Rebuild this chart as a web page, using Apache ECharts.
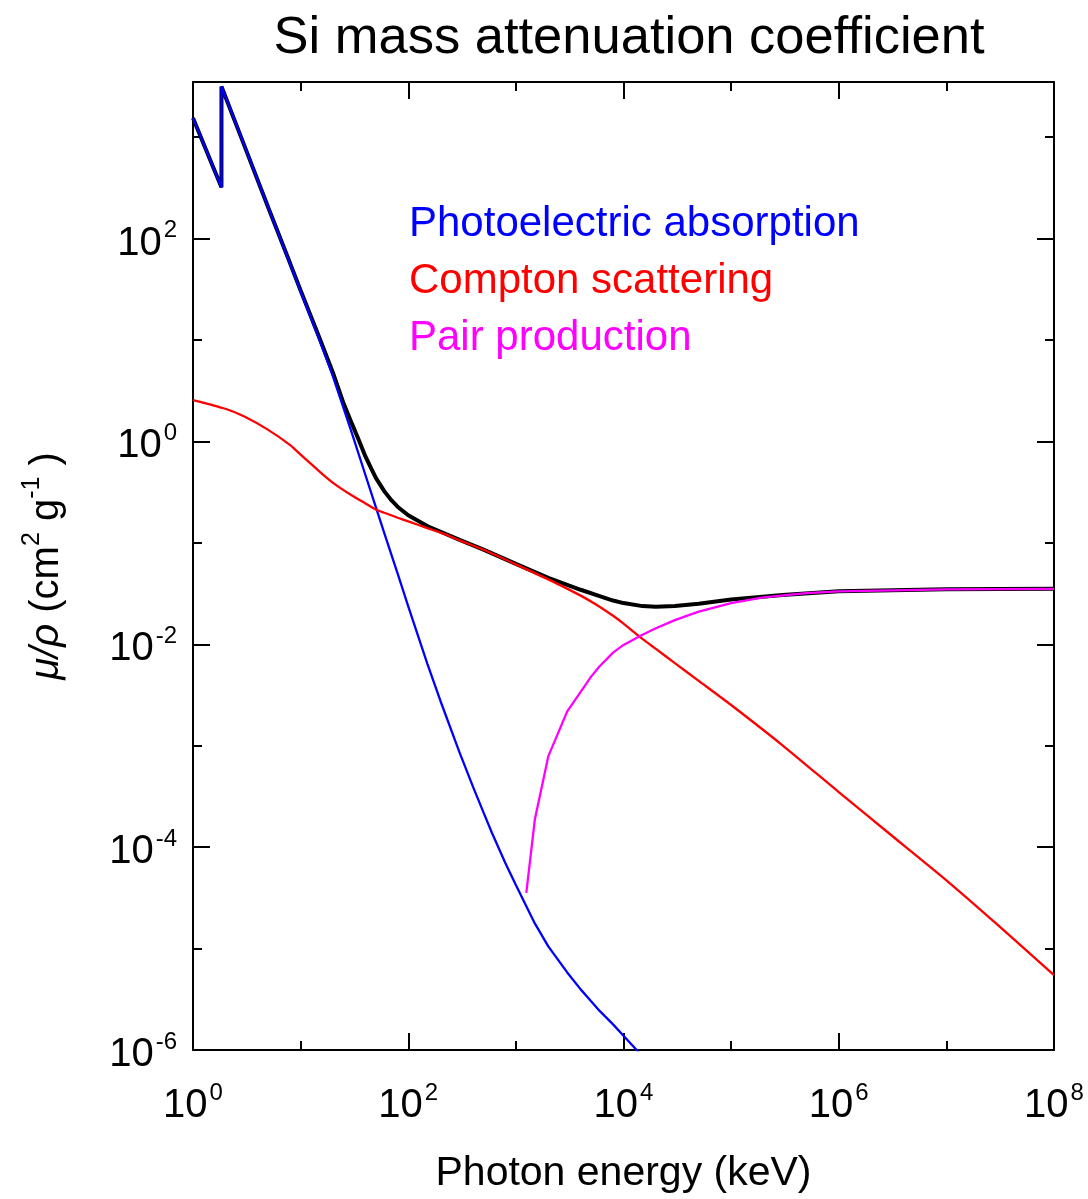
<!DOCTYPE html>
<html>
<head>
<meta charset="utf-8">
<title>Si mass attenuation coefficient</title>
<script src="https://cdn.jsdelivr.net/npm/echarts@6/dist/echarts.min.js"></script>
<style>
  html, body { margin: 0; padding: 0; background: #ffffff; }
  #chart { width: 1088px; height: 1199px; }
</style>
</head>
<body>
<div id="chart"></div>
<script>
// Photon energies in keV, mass attenuation coefficients in cm^2/g.

// Photoelectric absorption (with the Si K edge at 1.839 keV)
const energyPhoto = [1, 1.5, 1.838, 1.839, 3, 5, 8, 10, 15, 20, 30, 40, 50, 60, 80, 100, 150, 200, 300, 400,
  500, 600, 800, 1000, 1500, 2000, 3000, 4000, 5000, 6000, 8000, 10000, 15000];
const photoelectric = [1540, 540, 318, 3160, 824, 202, 55.8, 30.1, 9.91, 4.35, 1.20, 0.467, 0.225, 0.124,
  0.0491, 0.0237, 6.50e-3, 2.73e-3, 8.54e-4, 3.93e-4, 2.20e-4, 1.38e-4, 6.95e-5, 4.24e-5, 1.77e-5,
  1.05e-5, 5.82e-6, 3.96e-6, 3.02e-6, 2.43e-6, 1.79e-6, 1.38e-6, 8.67e-7];

// Compton scattering
const energyCompton = [1, 2, 3, 5, 8, 10, 15, 20, 30, 40, 50, 60, 80, 100, 150, 200, 300, 500, 1000, 2000,
  4000, 6000, 8000, 10000, 15000, 20000, 30000, 50000, 1e5, 3e5, 1e6, 3e6, 1e7, 3e7, 1e8];
const compton = [2.56, 2.10, 1.76, 1.30, 0.919, 0.741, 0.505, 0.391, 0.293, 0.245, 0.213, 0.198, 0.177,
  0.163, 0.140, 0.126, 0.106, 0.0855, 0.0614, 0.0437, 0.0302, 0.0235, 0.0191, 0.0160, 0.0113, 9.01e-3,
  6.53e-3, 4.36e-3, 2.52e-3, 1.01e-3, 3.49e-4, 1.34e-4, 4.71e-5, 1.71e-5, 5.46e-6];

// Pair production (threshold at 1.022 MeV)
const energyPair = [1250, 1500, 2000, 3000, 4000, 5000, 6000, 8000, 10000, 15000, 20000, 30000, 50000,
  1e5, 2e5, 5e5, 1e6, 1e7, 1e8];
const pair = [3.55e-5, 1.87e-4, 7.85e-4, 2.18e-3, 3.40e-3, 4.80e-3, 6.08e-3, 8.28e-3, 9.86e-3, 0.0124,
  0.0144, 0.0173, 0.0210, 0.0255, 0.0290, 0.0319, 0.0333, 0.0348, 0.0352];

// Total attenuation
const energyTotal = [1, 1.5, 1.838, 1.839, 3, 5, 8, 10, 15, 20, 25, 30, 35, 40, 45, 50, 60, 70, 80, 100, 150,
  200, 300, 500, 1000, 2000, 4000, 6000, 8000, 10000, 15000, 20000, 30000, 50000, 1e5, 3e5, 1e6, 1e7, 1e8];
const total = [1543, 542, 320.5, 3162, 826, 203, 56.7, 30.8, 10.4, 4.74, 2.39, 1.49, 1.01, 0.712, 0.548,
  0.438, 0.322, 0.262, 0.226, 0.187, 0.1465, 0.1287, 0.1069, 0.0857, 0.0620, 0.0452, 0.0345, 0.0299,
  0.0270, 0.0255, 0.0238, 0.0234, 0.0238, 0.0251, 0.0277, 0.0307, 0.0333, 0.0348, 0.0352];

// Axis ranges (decades) and labelled decades
const xDecadeMin = 0, xDecadeMax = 8;
const yDecadeMin = -6, yTopValue = 3500;
const xLabelExponents = [0, 2, 4, 6, 8];
const yLabelExponents = [-6, -4, -2, 0, 2];

const seriesNames = ['Photoelectric absorption', 'Compton scattering', 'Pair production', 'Total'];

const FONT = '"Liberation Sans", Arial, Helvetica, sans-serif';
const yDecadeMax = Math.log10(yTopValue);

function toLogPairs(xs, ys) {
  return xs.map((e, i) => [Math.log10(e), Math.log10(ys[i])]);
}

const powerRich = {
  b: { fontSize: 40, lineHeight: 40, padding: [10, 0, 0, 0], fontFamily: FONT, color: '#000' },
  s: { fontSize: 24, lineHeight: 24, verticalAlign: 'top', padding: [0, 0, 0, 2], fontFamily: FONT, color: '#000' }
};

function powerLabel(list) {
  return function (v) {
    const r = Math.round(v);
    if (Math.abs(v - r) > 1e-6 || list.indexOf(r) < 0) return '';
    return '{b|10}{s|' + r + '}';
  };
}

const axisLineStyle = { color: '#000', width: 2 };

function xAxisDef(pos, withLabels) {
  return {
    type: 'value', position: pos, min: xDecadeMin, max: xDecadeMax, interval: 2,
    axisLine: { show: true, onZero: false, lineStyle: axisLineStyle },
    axisTick: { show: true, inside: true, length: 17, lineStyle: axisLineStyle },
    minorTick: { show: true, splitNumber: 2, length: 9, lineStyle: axisLineStyle },
    splitLine: { show: false },
    minorSplitLine: { show: false },
    axisLabel: withLabels
      ? { show: true, margin: 31, formatter: powerLabel(xLabelExponents), rich: powerRich }
      : { show: false }
  };
}

function yAxisDef(pos, interval, tickLen, showLine, withLabels) {
  return {
    type: 'value', position: pos, min: yDecadeMin, max: yDecadeMax, interval: interval,
    axisLine: { show: showLine, onZero: false, lineStyle: axisLineStyle },
    axisTick: { show: true, inside: true, length: tickLen, lineStyle: axisLineStyle },
    splitLine: { show: false },
    axisLabel: withLabels
      ? { show: true, margin: 16, formatter: powerLabel(yLabelExponents), rich: powerRich }
      : { show: false }
  };
}

const xMain = xAxisDef('bottom', true);
xMain.name = 'Photon energy (keV)';
xMain.nameLocation = 'middle';
xMain.nameGap = 103;
xMain.nameTextStyle = { fontSize: 41, lineHeight: 41, color: '#000', fontFamily: FONT };

const yMain = yAxisDef('left', 2, 17, true, true);
yMain.name = '{g|\u03bc/\u03c1} {n|(cm}{s|2}{n| g}{s|-1}{n| )}';
yMain.nameLocation = 'middle';
yMain.nameRotate = 90;
yMain.nameGap = 133;
yMain.nameMoveOverlap = false;
yMain.nameTextStyle = {
  fontSize: 40, lineHeight: 40, color: '#000', fontFamily: FONT,
  rich: {
    g: { fontSize: 40, lineHeight: 40, padding: [13, 0, 0, 0], fontStyle: 'italic', fontFamily: FONT, color: '#000' },
    n: { fontSize: 40, lineHeight: 40, padding: [13, 0, 0, 0], fontFamily: FONT, color: '#000' },
    s: { fontSize: 25, lineHeight: 25, verticalAlign: 'top', fontFamily: FONT, color: '#000' }
  }
};

const chart = echarts.init(document.getElementById('chart'), null, { renderer: 'canvas' });

chart.setOption({
  animation: false,
  backgroundColor: '#ffffff',
  textStyle: { fontFamily: FONT },
  title: {
    text: 'Si mass attenuation coefficient',
    left: 624, top: 7, textAlign: 'center',
    textStyle: { fontSize: 52.5, lineHeight: 53, fontWeight: 'normal', color: '#000', fontFamily: FONT }
  },
  legend: {
    orient: 'vertical', left: 404, top: 196, padding: 0, itemGap: 0,
    itemWidth: 0, itemHeight: 0, icon: 'none', selectedMode: false,
    textStyle: { fontSize: 42, lineHeight: 57, fontFamily: FONT },
    data: [
      { name: seriesNames[0], textStyle: { color: '#0000ff' } },
      { name: seriesNames[1], textStyle: { color: '#ff0000' } },
      { name: seriesNames[2], textStyle: { color: '#ff00ff' } }
    ]
  },
  grid: { left: 193, top: 82, width: 861, height: 969, show: false, containLabel: false },
  xAxis: [xMain, xAxisDef('top', false)],
  yAxis: [
    yMain,
    yAxisDef('left', 1, 9, false, false),
    yAxisDef('right', 2, 17, true, false),
    yAxisDef('right', 1, 9, false, false)
  ],
  series: [
    {
      name: seriesNames[3], type: 'line', xAxisIndex: 0, yAxisIndex: 0,
      data: toLogPairs(energyTotal, total), showSymbol: false, symbol: 'none',
      lineStyle: { color: '#000000', width: 4 }, itemStyle: { color: '#000000' }, z: 2
    },
    {
      name: seriesNames[0], type: 'line', xAxisIndex: 0, yAxisIndex: 0,
      data: toLogPairs(energyPhoto, photoelectric), showSymbol: false, symbol: 'none',
      lineStyle: { color: '#0000ff', width: 2.3 }, itemStyle: { color: '#0000ff' }, z: 3
    },
    {
      name: seriesNames[1], type: 'line', xAxisIndex: 0, yAxisIndex: 0,
      data: toLogPairs(energyCompton, compton), showSymbol: false, symbol: 'none', smooth: 0.2,
      lineStyle: { color: '#ff0000', width: 2.3 }, itemStyle: { color: '#ff0000' }, z: 4
    },
    {
      name: seriesNames[2], type: 'line', xAxisIndex: 0, yAxisIndex: 0,
      data: toLogPairs(energyPair, pair), showSymbol: false, symbol: 'none',
      lineStyle: { color: '#ff00ff', width: 2.3 }, itemStyle: { color: '#ff00ff' }, z: 5
    }
  ]
});
</script>
</body>
</html>
